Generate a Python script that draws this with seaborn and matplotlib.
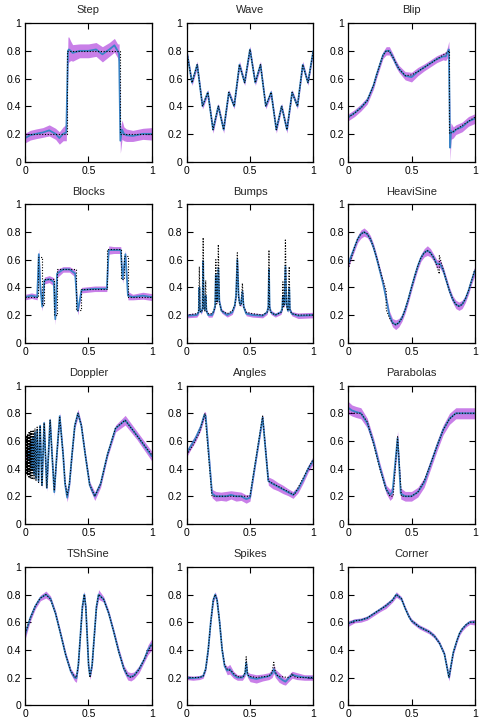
import numpy as np
import pandas as pd
import matplotlib
matplotlib.use("Agg")
from matplotlib import pyplot as plt
import seaborn as sns

# true curve (black dotted), fitted curve (blue) and band half-width (purple)
step_tx = [0, 0.333, 0.333, 0.75, 0.75, 1]
step_ty = [0.2, 0.2, 0.8, 0.8, 0.2, 0.2]
step_fx = [0, 0.04, 0.085, 0.14, 0.19, 0.24, 0.27, 0.3, 0.325, 0.338,
           0.345, 0.36, 0.375, 0.43, 0.5, 0.56, 0.61, 0.665, 0.705, 0.73,
           0.742, 0.752, 0.765, 0.78, 0.8, 0.85, 0.93, 1]
step_fy = [0.17, 0.19, 0.2, 0.21, 0.225, 0.2, 0.17, 0.2, 0.21, 0.8,
           0.81, 0.8, 0.785, 0.8, 0.8, 0.81, 0.775, 0.81, 0.84, 0.8,
           0.78, 0.15, 0.23, 0.2, 0.19, 0.185, 0.2, 0.2]
step_fw = [0.035, 0.035, 0.035, 0.035, 0.04, 0.04, 0.045, 0.05, 0.06, 0.1,
           0.09, 0.07, 0.06, 0.05, 0.05, 0.05, 0.055, 0.05, 0.05, 0.05,
           0.07, 0.09, 0.07, 0.05, 0.045, 0.04, 0.04, 0.045]

wave_tx = [0, 0.042, 0.083, 0.125, 0.167, 0.208, 0.25, 0.292, 0.333, 0.375,
           0.417, 0.458, 0.5, 0.542, 0.583, 0.625, 0.667, 0.708, 0.75, 0.792,
           0.833, 0.875, 0.917, 0.958, 1]
wave_ty = [0.8, 0.57, 0.7, 0.4, 0.5, 0.23, 0.4, 0.23, 0.5, 0.4,
           0.7, 0.57, 0.81, 0.57, 0.7, 0.4, 0.5, 0.23, 0.4, 0.23,
           0.5, 0.4, 0.7, 0.57, 0.8]
wave_fx = wave_tx
wave_fy = wave_ty
wave_fw = [0.02, 0.02, 0.025, 0.02, 0.02, 0.025, 0.02, 0.025, 0.02, 0.02,
           0.025, 0.02, 0.025, 0.02, 0.025, 0.02, 0.02, 0.025, 0.02, 0.025,
           0.02, 0.02, 0.025, 0.02, 0.02]

blip_tx = [0, 0.05, 0.1, 0.15, 0.2, 0.225, 0.25, 0.275, 0.3, 0.325,
           0.35, 0.375, 0.4, 0.45, 0.5, 0.55, 0.6, 0.65, 0.7, 0.75,
           0.8, 0.8, 0.85, 0.9, 0.95, 1]
blip_ty = [0.32, 0.35, 0.386, 0.44, 0.55, 0.626, 0.7, 0.767, 0.8, 0.797,
           0.76, 0.716, 0.67, 0.62, 0.626, 0.65, 0.68, 0.71, 0.74, 0.77,
           0.8, 0.2, 0.23, 0.26, 0.29, 0.32]
blip_fx = [0, 0.05, 0.1, 0.15, 0.2, 0.225, 0.25, 0.275, 0.3, 0.325,
           0.35, 0.375, 0.4, 0.45, 0.5, 0.55, 0.6, 0.65, 0.7, 0.75,
           0.77, 0.785, 0.795, 0.805, 0.812, 0.83, 0.85, 0.9, 0.95, 1]
blip_fy = [0.32, 0.35, 0.39, 0.44, 0.55, 0.63, 0.7, 0.77, 0.8, 0.8,
           0.76, 0.71, 0.67, 0.62, 0.61, 0.65, 0.68, 0.71, 0.74, 0.76,
           0.76, 0.79, 0.81, 0.1, 0.22, 0.21, 0.23, 0.25, 0.29, 0.31]
blip_fw = [0.025, 0.025, 0.025, 0.025, 0.025, 0.025, 0.025, 0.025, 0.03, 0.03,
           0.025, 0.025, 0.025, 0.03, 0.035, 0.03, 0.025, 0.025, 0.025, 0.025,
           0.03, 0.04, 0.06, 0.1, 0.06, 0.04, 0.035, 0.035, 0.035, 0.035]

blocks_tx = [0, 0.1, 0.1, 0.13, 0.13, 0.15, 0.15, 0.23, 0.23, 0.25,
             0.25, 0.4, 0.4, 0.44, 0.44, 0.65, 0.65, 0.76, 0.76, 0.78,
             0.78, 0.81, 0.81, 1]
blocks_ty = [0.33, 0.33, 0.62, 0.62, 0.27, 0.27, 0.46, 0.46, 0.2, 0.2,
             0.53, 0.53, 0.24, 0.24, 0.39, 0.39, 0.68, 0.68, 0.46, 0.46,
             0.63, 0.63, 0.33, 0.33]
blocks_fx = [0, 0.05, 0.095, 0.108, 0.12, 0.135, 0.152, 0.19, 0.226, 0.238,
             0.252, 0.3, 0.35, 0.395, 0.415, 0.43, 0.445, 0.55, 0.645, 0.66,
             0.7, 0.755, 0.77, 0.792, 0.812, 0.85, 0.93, 1]
blocks_fy = [0.33, 0.34, 0.33, 0.64, 0.4, 0.26, 0.45, 0.46, 0.44, 0.17,
             0.5, 0.53, 0.53, 0.5, 0.23, 0.3, 0.38, 0.39, 0.39, 0.67,
             0.67, 0.67, 0.46, 0.64, 0.34, 0.33, 0.34, 0.33]
blocks_fw = [0.02, 0.02, 0.02, 0.04, 0.03, 0.03, 0.025, 0.025, 0.03, 0.04,
             0.03, 0.02, 0.02, 0.025, 0.03, 0.025, 0.02, 0.02, 0.02, 0.03,
             0.025, 0.025, 0.03, 0.03, 0.03, 0.02, 0.025, 0.025]

bumps_tx = [0, 0.08, 0.095, 0.1, 0.105, 0.115, 0.125, 0.13, 0.135, 0.143,
            0.15, 0.156, 0.17, 0.2, 0.215, 0.225, 0.23, 0.237, 0.243, 0.25,
            0.258, 0.275, 0.32, 0.36, 0.38, 0.39, 0.4, 0.41, 0.42, 0.43,
            0.44, 0.45, 0.47, 0.52, 0.6, 0.635, 0.645, 0.65, 0.655, 0.665,
            0.7, 0.745, 0.755, 0.76, 0.765, 0.772, 0.78, 0.788, 0.8, 0.81,
            0.815, 0.83, 0.88, 1]
bumps_ty = [0.2, 0.21, 0.22, 0.55, 0.23, 0.22, 0.24, 0.76, 0.25, 0.23,
            0.45, 0.23, 0.21, 0.21, 0.23, 0.26, 0.6, 0.28, 0.3, 0.71,
            0.29, 0.23, 0.21, 0.23, 0.27, 0.33, 0.65, 0.33, 0.27, 0.27,
            0.43, 0.26, 0.22, 0.21, 0.2, 0.22, 0.25, 0.67, 0.25, 0.22,
            0.2, 0.22, 0.24, 0.44, 0.26, 0.27, 0.75, 0.27, 0.23, 0.55,
            0.24, 0.21, 0.2, 0.2]
bumps_fx = bumps_tx
bumps_fy = [0.195, 0.2, 0.22, 0.4, 0.24, 0.22, 0.25, 0.59, 0.26, 0.24,
            0.34, 0.23, 0.2, 0.2, 0.23, 0.27, 0.49, 0.3, 0.31, 0.54,
            0.3, 0.23, 0.2, 0.22, 0.27, 0.34, 0.6, 0.34, 0.28, 0.28,
            0.37, 0.26, 0.21, 0.2, 0.195, 0.22, 0.26, 0.53, 0.26, 0.22,
            0.2, 0.22, 0.25, 0.34, 0.27, 0.28, 0.55, 0.28, 0.23, 0.4,
            0.24, 0.21, 0.195, 0.2]
bumps_fw = [0.015, 0.015, 0.015, 0.02, 0.015, 0.015, 0.015, 0.02, 0.015, 0.015,
            0.02, 0.015, 0.015, 0.015, 0.015, 0.015, 0.02, 0.015, 0.015, 0.02,
            0.015, 0.015, 0.015, 0.015, 0.015, 0.015, 0.025, 0.015, 0.015, 0.015,
            0.02, 0.015, 0.015, 0.015, 0.015, 0.015, 0.015, 0.02, 0.015, 0.015,
            0.015, 0.015, 0.015, 0.02, 0.015, 0.015, 0.02, 0.015, 0.015, 0.02,
            0.015, 0.015, 0.02, 0.02]

heavi_tx = [0, 0.025, 0.05, 0.075, 0.1, 0.125, 0.15, 0.175, 0.2, 0.225,
            0.25, 0.275, 0.3, 0.3, 0.325, 0.35, 0.375, 0.4, 0.425, 0.45,
            0.475, 0.5, 0.525, 0.55, 0.575, 0.6, 0.625, 0.65, 0.675, 0.7,
            0.72, 0.72, 0.75, 0.775, 0.8, 0.825, 0.85, 0.875, 0.9, 0.925,
            0.95, 0.975, 1]
heavi_ty = [0.53, 0.615, 0.69, 0.75, 0.787, 0.8, 0.787, 0.75, 0.69, 0.615,
            0.53, 0.45, 0.375, 0.24, 0.18, 0.143, 0.13, 0.143, 0.18, 0.24,
            0.315, 0.4, 0.48, 0.555, 0.615, 0.65, 0.666, 0.65, 0.615, 0.555,
            0.497, 0.63, 0.53, 0.45, 0.375, 0.315, 0.277, 0.264, 0.277, 0.315,
            0.375, 0.45, 0.53]
heavi_fx = [0, 0.025, 0.05, 0.075, 0.1, 0.125, 0.15, 0.175, 0.2, 0.225,
            0.25, 0.275, 0.3, 0.325, 0.35, 0.375, 0.4, 0.425, 0.45, 0.475,
            0.5, 0.525, 0.55, 0.575, 0.6, 0.625, 0.65, 0.675, 0.7, 0.725,
            0.75, 0.775, 0.8, 0.825, 0.85, 0.875, 0.9, 0.925, 0.95, 0.975,
            1]
heavi_fy = [0.57, 0.63, 0.69, 0.75, 0.785, 0.8, 0.785, 0.75, 0.69, 0.61,
            0.52, 0.43, 0.32, 0.2, 0.145, 0.13, 0.145, 0.18, 0.24, 0.315,
            0.4, 0.48, 0.555, 0.615, 0.65, 0.666, 0.65, 0.615, 0.57, 0.57,
            0.525, 0.45, 0.375, 0.315, 0.277, 0.264, 0.277, 0.315, 0.375, 0.45,
            0.52]
heavi_fw = [0.03, 0.025, 0.025, 0.025, 0.03, 0.03, 0.025, 0.025, 0.025, 0.025,
            0.025, 0.025, 0.025, 0.03, 0.03, 0.035, 0.03, 0.025, 0.025, 0.025,
            0.025, 0.025, 0.025, 0.025, 0.03, 0.035, 0.03, 0.025, 0.03, 0.03,
            0.025, 0.025, 0.025, 0.025, 0.03, 0.03, 0.03, 0.025, 0.025, 0.025,
            0.035]

dop_tx = [0, 0.0016, 0.0028, 0.004, 0.0054, 0.0068, 0.0082, 0.0098, 0.0114, 0.0132,
          0.0151, 0.017, 0.0192, 0.0214, 0.0239, 0.0265, 0.0294, 0.0324, 0.0357, 0.0394,
          0.0433, 0.0477, 0.0524, 0.0577, 0.0635, 0.07, 0.0773, 0.0855, 0.0948, 0.1056,
          0.118, 0.1326, 0.15, 0.171, 0.197, 0.2125, 0.23, 0.25, 0.273, 0.3,
          0.315, 0.332, 0.35, 0.37, 0.392, 0.417, 0.444, 0.475, 0.51, 0.55,
          0.596, 0.65, 0.714, 0.79, 0.883, 1.0]
dop_ty = [0.5, 0.38, 0.62, 0.37, 0.63, 0.36, 0.63, 0.36, 0.64, 0.36,
          0.64, 0.35, 0.65, 0.35, 0.65, 0.34, 0.66, 0.34, 0.66, 0.33,
          0.67, 0.33, 0.67, 0.32, 0.68, 0.32, 0.69, 0.31, 0.7, 0.3,
          0.71, 0.28, 0.73, 0.26, 0.75, 0.5, 0.24, 0.5, 0.77, 0.5,
          0.3, 0.21, 0.295, 0.5, 0.71, 0.8, 0.713, 0.5, 0.285, 0.2,
          0.289, 0.5, 0.694, 0.75, 0.638, 0.5]
dop_fx = [0, 0.01, 0.02, 0.03, 0.0357, 0.0394, 0.0433, 0.0477, 0.0524, 0.0577,
          0.0635, 0.07, 0.0773, 0.0855, 0.0948, 0.1056, 0.118, 0.1326, 0.15, 0.171,
          0.197, 0.2125, 0.23, 0.25, 0.273, 0.3, 0.315, 0.332, 0.35, 0.37,
          0.392, 0.417, 0.444, 0.475, 0.51, 0.55, 0.596, 0.65, 0.714, 0.79,
          0.883, 1.0]
dop_fy = [0.5, 0.49, 0.51, 0.47, 0.56, 0.44, 0.58, 0.42, 0.6, 0.39,
          0.63, 0.36, 0.66, 0.33, 0.68, 0.31, 0.71, 0.28, 0.73, 0.26,
          0.75, 0.5, 0.23, 0.5, 0.78, 0.5, 0.29, 0.19, 0.29, 0.5,
          0.71, 0.8, 0.71, 0.5, 0.28, 0.2, 0.29, 0.5, 0.69, 0.75,
          0.64, 0.49]
dop_fw = [0.03, 0.03, 0.03, 0.03, 0.03, 0.03, 0.03, 0.03, 0.03, 0.03,
          0.03, 0.03, 0.03, 0.03, 0.03, 0.025, 0.025, 0.025, 0.025, 0.025,
          0.025, 0.02, 0.025, 0.02, 0.025, 0.02, 0.025, 0.03, 0.025, 0.02,
          0.02, 0.03, 0.02, 0.02, 0.025, 0.03, 0.025, 0.02, 0.025, 0.035,
          0.03, 0.035]

angles_tx = [0, 0.05, 0.1, 0.145, 0.2, 0.5, 0.6, 0.645, 0.85, 1]
angles_ty = [0.5, 0.57, 0.66, 0.8, 0.2, 0.2, 0.78, 0.31, 0.21, 0.47]
angles_fx = [0, 0.03, 0.07, 0.11, 0.14, 0.15, 0.2, 0.23, 0.27, 0.31,
             0.35, 0.39, 0.43, 0.47, 0.5, 0.55, 0.6, 0.645, 0.68, 0.72,
             0.76, 0.8, 0.84, 0.88, 0.92, 0.96, 1]
angles_fy = [0.51, 0.56, 0.62, 0.7, 0.79, 0.78, 0.22, 0.2, 0.2, 0.2,
             0.21, 0.2, 0.2, 0.18, 0.19, 0.48, 0.77, 0.31, 0.29, 0.27,
             0.25, 0.23, 0.21, 0.25, 0.32, 0.4, 0.46]
angles_fw = [0.025, 0.025, 0.025, 0.025, 0.025, 0.025, 0.03, 0.035, 0.03, 0.035,
             0.03, 0.035, 0.03, 0.03, 0.025, 0.02, 0.02, 0.03, 0.035, 0.03,
             0.03, 0.025, 0.025, 0.025, 0.025, 0.025, 0.025]

para_tx = [0, 0.05, 0.1, 0.15, 0.2, 0.25, 0.3, 0.33, 0.355, 0.39,
           0.42, 0.45, 0.5, 0.55, 0.6, 0.65, 0.7, 0.75, 0.8, 0.85,
           0.9, 1]
para_ty = [0.8, 0.8, 0.8, 0.74, 0.58, 0.4, 0.25, 0.2, 0.2, 0.63,
           0.2, 0.2, 0.2, 0.23, 0.31, 0.43, 0.56, 0.68, 0.76, 0.8,
           0.8, 0.8]
para_fx = [0, 0.03, 0.06, 0.1, 0.15, 0.2, 0.25, 0.3, 0.33, 0.35,
           0.39, 0.415, 0.45, 0.5, 0.55, 0.6, 0.65, 0.7, 0.75, 0.8,
           0.85, 0.9, 0.95, 1]
para_fy = [0.84, 0.82, 0.81, 0.8, 0.73, 0.59, 0.41, 0.25, 0.21, 0.23,
           0.62, 0.22, 0.2, 0.2, 0.23, 0.3, 0.43, 0.56, 0.68, 0.76,
           0.8, 0.8, 0.8, 0.8]
para_fw = [0.045, 0.04, 0.04, 0.04, 0.035, 0.03, 0.03, 0.03, 0.04, 0.04,
           0.05, 0.04, 0.035, 0.035, 0.035, 0.035, 0.035, 0.035, 0.035, 0.04,
           0.04, 0.04, 0.04, 0.04]

tsh_tx = [0, 0.04, 0.08, 0.12, 0.164, 0.2, 0.24, 0.28, 0.32, 0.36,
          0.39, 0.405, 0.42, 0.436, 0.452, 0.467, 0.479, 0.49, 0.501, 0.512,
          0.529, 0.546, 0.563, 0.58, 0.62, 0.66, 0.7, 0.74, 0.78, 0.81,
          0.835, 0.86, 0.9, 0.94, 0.97, 1]
tsh_ty = [0.52, 0.627, 0.716, 0.774, 0.8, 0.767, 0.663, 0.516, 0.364, 0.248,
          0.206, 0.2, 0.29, 0.5, 0.71, 0.8, 0.71, 0.5, 0.29, 0.2,
          0.29, 0.5, 0.71, 0.8, 0.765, 0.665, 0.53, 0.385, 0.265, 0.215,
          0.2, 0.21, 0.26, 0.33, 0.39, 0.44]
tsh_fx = tsh_tx
tsh_fy = [0.51, 0.63, 0.716, 0.775, 0.8, 0.77, 0.663, 0.516, 0.364, 0.245,
          0.2, 0.195, 0.29, 0.5, 0.71, 0.8, 0.71, 0.5, 0.29, 0.21,
          0.29, 0.5, 0.71, 0.8, 0.765, 0.665, 0.53, 0.385, 0.262, 0.212,
          0.205, 0.215, 0.26, 0.33, 0.4, 0.44]
tsh_fw = [0.03, 0.025, 0.02, 0.02, 0.025, 0.02, 0.02, 0.02, 0.02, 0.02,
          0.025, 0.03, 0.02, 0.015, 0.02, 0.025, 0.02, 0.015, 0.02, 0.025,
          0.02, 0.015, 0.02, 0.035, 0.02, 0.02, 0.02, 0.025, 0.025, 0.03,
          0.03, 0.025, 0.025, 0.02, 0.035, 0.04]

spk_tx = [0, 0.1, 0.13, 0.15, 0.17, 0.19, 0.21, 0.225, 0.24, 0.26,
          0.28, 0.3, 0.32, 0.35, 0.38, 0.42, 0.45, 0.462, 0.47, 0.478,
          0.49, 0.55, 0.65, 0.675, 0.688, 0.7, 0.72, 0.8, 0.825, 0.833,
          0.842, 0.87, 1]
spk_ty = [0.2, 0.2, 0.21, 0.26, 0.4, 0.6, 0.76, 0.8, 0.76, 0.6,
          0.4, 0.29, 0.26, 0.25, 0.22, 0.2, 0.21, 0.24, 0.35, 0.24,
          0.21, 0.2, 0.21, 0.24, 0.31, 0.24, 0.21, 0.2, 0.21, 0.23,
          0.21, 0.2, 0.2]
spk_fx = [0, 0.05, 0.1, 0.13, 0.15, 0.17, 0.19, 0.21, 0.225, 0.24,
          0.26, 0.28, 0.3, 0.32, 0.34, 0.37, 0.4, 0.44, 0.462, 0.47,
          0.48, 0.5, 0.55, 0.6, 0.65, 0.675, 0.688, 0.7, 0.73, 0.76,
          0.78, 0.8, 0.833, 0.87, 0.93, 1]
spk_fy = [0.2, 0.195, 0.2, 0.21, 0.26, 0.4, 0.6, 0.76, 0.8, 0.76,
          0.6, 0.4, 0.28, 0.25, 0.26, 0.22, 0.2, 0.2, 0.23, 0.31,
          0.22, 0.2, 0.19, 0.2, 0.21, 0.23, 0.26, 0.23, 0.2, 0.18,
          0.17, 0.19, 0.22, 0.21, 0.2, 0.2]
spk_fw = [0.015, 0.015, 0.015, 0.015, 0.015, 0.015, 0.015, 0.02, 0.02, 0.02,
          0.015, 0.015, 0.02, 0.03, 0.035, 0.025, 0.02, 0.02, 0.02, 0.025,
          0.02, 0.03, 0.03, 0.025, 0.025, 0.03, 0.03, 0.03, 0.035, 0.03,
          0.025, 0.025, 0.025, 0.025, 0.02, 0.02]

corner_tx = [0, 0.05, 0.1, 0.15, 0.2, 0.25, 0.3, 0.35, 0.38, 0.42,
             0.45, 0.48, 0.5, 0.56, 0.64, 0.68, 0.72, 0.76, 0.796, 0.83,
             0.86, 0.88, 0.9, 0.93, 0.96, 1]
corner_ty = [0.59, 0.61, 0.615, 0.63, 0.66, 0.69, 0.72, 0.76, 0.8, 0.77,
             0.7, 0.64, 0.61, 0.567, 0.53, 0.5, 0.45, 0.37, 0.2, 0.38,
             0.47, 0.52, 0.55, 0.58, 0.6, 0.6]
corner_fx = corner_tx
corner_fy = corner_ty
corner_fw = [0.02, 0.015, 0.015, 0.015, 0.015, 0.015, 0.02, 0.015, 0.02, 0.015,
             0.015, 0.015, 0.015, 0.015, 0.015, 0.015, 0.015, 0.015, 0.025, 0.015,
             0.015, 0.015, 0.015, 0.015, 0.015, 0.02]

titles = ["Step", "Wave", "Blip", "Blocks", "Bumps", "HeaviSine",
          "Doppler", "Angles", "Parabolas", "TShSine", "Spikes", "Corner"]
panels = [
    (step_tx, step_ty, step_fx, step_fy, step_fw),
    (wave_tx, wave_ty, wave_fx, wave_fy, wave_fw),
    (blip_tx, blip_ty, blip_fx, blip_fy, blip_fw),
    (blocks_tx, blocks_ty, blocks_fx, blocks_fy, blocks_fw),
    (bumps_tx, bumps_ty, bumps_fx, bumps_fy, bumps_fw),
    (heavi_tx, heavi_ty, heavi_fx, heavi_fy, heavi_fw),
    (dop_tx, dop_ty, dop_fx, dop_fy, dop_fw),
    (angles_tx, angles_ty, angles_fx, angles_fy, angles_fw),
    (para_tx, para_ty, para_fx, para_fy, para_fw),
    (tsh_tx, tsh_ty, tsh_fx, tsh_fy, tsh_fw),
    (spk_tx, spk_ty, spk_fx, spk_fy, spk_fw),
    (corner_tx, corner_ty, corner_fx, corner_fy, corner_fw),
]

sns.set_theme(style="ticks")
plt.rcParams['font.family'] = ['Liberation Sans', 'DejaVu Sans']

fig, axes = plt.subplots(4, 3, figsize=(4.84, 7.24), dpi=100)
fig.subplots_adjust(left=0.052, right=0.981, top=0.968, bottom=0.026,
                    wspace=0.276, hspace=0.31)

for ax, title, (tx, ty, fx, fy, fw) in zip(axes.flat, titles, panels):
    fx = np.array(fx)
    fy = np.array(fy)
    fw = np.array(fw)
    ax.fill_between(fx, fy - fw, fy + fw, color="#9400d3", alpha=0.5, lw=0)
    fit = pd.DataFrame({"x": fx, "y": fy})
    sns.lineplot(data=fit, x="x", y="y", ax=ax, color="#3a84c6", lw=1.3,
                 estimator=None, sort=False)
    truth = pd.DataFrame({"x": tx, "y": ty})
    sns.lineplot(data=truth, x="x", y="y", ax=ax, color="black", lw=0.8,
                 linestyle=(0, (1, 1.5)), estimator=None, sort=False)
    ax.set(xlim=(0, 1), ylim=(0, 1), xlabel="", ylabel="")
    ax.set_title(title, fontsize=8, pad=7)
    ax.set_xticks([0, 0.5, 1])
    ax.set_xticklabels(["0", "0.5", "1"])
    ax.set_yticks([0, 0.2, 0.4, 0.6, 0.8, 1])
    ax.set_yticklabels(["0", "0.2", "0.4", "0.6", "0.8", "1"])
    ax.tick_params(direction="in", top=True, right=True, length=4, width=0.8,
                   labelsize=7.5, pad=3, colors="black")
    for s in ax.spines.values():
        s.set_linewidth(0.9)
        s.set_color("black")

fig.savefig("out.png", dpi=100)
